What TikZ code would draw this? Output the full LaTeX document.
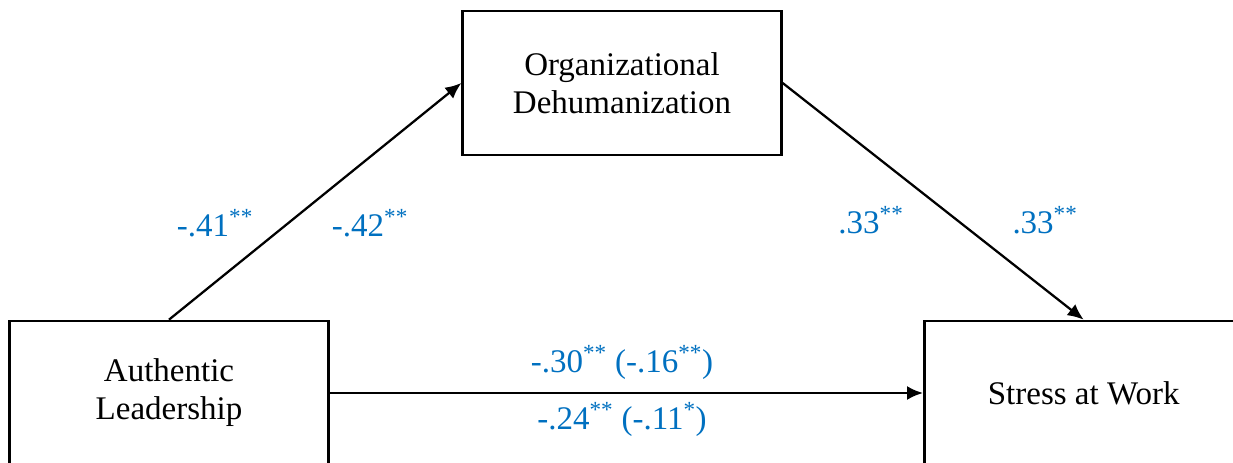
\documentclass[tikz,border=0pt]{standalone}
\usepackage{fontspec}
\setmainfont{Liberation Serif}
\usepackage{tikz}
\usetikzlibrary{arrows.meta,positioning}
\definecolor{coefblue}{RGB}{0,112,192}

\begin{document}
\begin{tikzpicture}[x=0.75pt,y=-0.75pt,->,>={Latex[length=12pt,width=10.5pt]},
                    line width=1.7pt]
  \tikzstyle{box}=[draw,line width=2pt,minimum width=239pt,minimum height=108pt,
                   inner sep=0pt,align=center,font=\fontsize{24.75}{28.5}\selectfont]
  \tikzstyle{coef}=[anchor=base,text=coefblue,inner sep=0pt,
                    font=\fontsize{24.75}{28.5}\selectfont]

  \clip (0,0) rectangle (1233,463);

  \node[box] (lead)                    at (169,393) {Authentic\\Leadership};
  \node[box] (stress) [right=445pt of lead]         {Stress at Work};
  \node[box] (dehum)                   at (622,83)  {Organizational\\Dehumanization};

  \node[coef] (a1) at (215,237)  {-.41\textsuperscript{**}};
  \node[coef] (a2) at (370,237)  {-.42\textsuperscript{**}};
  \node[coef] (b1) at (871,234)  {.33\textsuperscript{**}};
  \node[coef] (b2) at (1045,234) {.33\textsuperscript{**}};
  \node[coef] (c1) at (622,373)  {-.30\textsuperscript{**} (-.16\textsuperscript{**})};
  \node[coef] (c2) at (622,430)  {-.24\textsuperscript{**} (-.11\textsuperscript{*})};

  \draw (lead.north) -- (dehum.west);
  \draw (dehum.east) -- (stress.north);
  \draw (lead.east)  -- (stress.west);
\end{tikzpicture}
\end{document}
